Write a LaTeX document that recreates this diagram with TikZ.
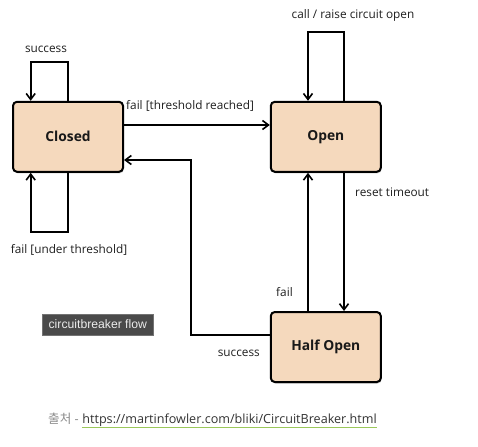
\documentclass[tikz,border=0pt]{standalone}
\usepackage{fontspec}
\setmainfont{Open Sans}
\newfontfamily\krfont{Noto Sans CJK KR}
\newfontfamily\tagfont{Liberation Sans}
\usetikzlibrary{arrows.meta,shadows}
\definecolor{boxfill}{HTML}{F5D9BD}
\definecolor{tagfill}{HTML}{4A4A4A}
\definecolor{urlline}{HTML}{9BC85A}
\begin{document}
\begin{tikzpicture}[x=1pt,y=-1pt,
  state/.style={draw=black,line width=2pt,fill=boxfill,rounded corners=4pt,
    minimum width=110pt,minimum height=70pt,inner sep=0pt,
    font=\fontsize{13.8}{16}\selectfont\bfseries,text=black!90,
    drop shadow={shadow xshift=0.8pt,shadow yshift=-1.5pt,opacity=0.35,fill=black!60}},
  arr/.style={line width=2pt,-{Straight Barb[length=6pt,width=9pt,line width=1.6pt]}},
  lbl/.style={font=\fontsize{11.8}{14}\selectfont,text=black!88,inner sep=0pt},
]
\useasboundingbox (0,0) rectangle (478,446);
\fill[white] (0,0) rectangle (478,446);
\node[state] (closed) at (68,136.8) {Closed};
\node[state] (open) at (325.8,136.8) {Open};
\node[state] (half) at (325.8,347) {Half Open};
\coordinate (c1) at (30.7,61.7);
\coordinate (c2) at (30.7,232);
\coordinate (t1) at (200,125);
\coordinate (s1) at (190.7,335);
\coordinate (s2) at (190.7,160);
\coordinate (o1) at (344,31.7);
\coordinate (o2) at (308,31.7);
\draw[arr] (closed.north) |- (c1) -- (c1 |- closed.north);
\draw[arr] (closed.south) |- (c2) -- (c2 |- closed.south);
\draw[arr] (closed.east |- t1) -- (open.west |- t1);
\draw[arr] (half.west |- s1) -- (s1) -- (s2) -- (closed.east |- s2);
\draw[arr] (open.north -| o1) -- (o1) -- (o2) -- (open.north -| o2);
\draw[arr] (open.south -| o1) -- (half.north -| o1);
\draw[arr] (half.north -| o2) -- (open.south -| o2);
\node[lbl] (l1) at (46,49) {success};
\node[lbl] (l2) at (69,249.5) {fail [under threshold]};
\node[lbl,anchor=west] (l3) at (126,105.5) {fail [threshold reached]};
\node[lbl] (l4) at (353,15.5) {call / raise circuit open};
\node[lbl,anchor=west] (l5) at (355,192) {reset timeout};
\node[lbl,anchor=west] (l6) at (276,292.5) {fail};
\node[lbl,anchor=east] (l7) at (260,353) {success};
\node[fill=tagfill,draw=black!55,line width=0.5pt,minimum width=111pt,minimum height=20.5pt,inner sep=0pt,
  text=white!92!black,font=\tagfont\fontsize{12.2}{14}\selectfont,
  drop shadow={shadow xshift=0pt,shadow yshift=-1.5pt,opacity=0.2,fill=black!40}] (tag) at (97.8,324.6) {circuitbreaker flow};
\node[inner sep=0pt,anchor=base west,text=black!45,font=\fontsize{12.6}{15}\selectfont] (src) at (48,423) {{\krfont 출처} -};
\node[inner sep=0pt,anchor=base west,text=black!80,font=\fontsize{12.6}{15}\selectfont] (url) at (src.base east) {\ https://martinfowler.com/bliki/CircuitBreaker.html};
\draw[urlline,line width=0.9pt] ([xshift=3pt]url.south west |- 0,427.5) -- (url.south east |- 0,427.5);
\end{tikzpicture}
\end{document}
